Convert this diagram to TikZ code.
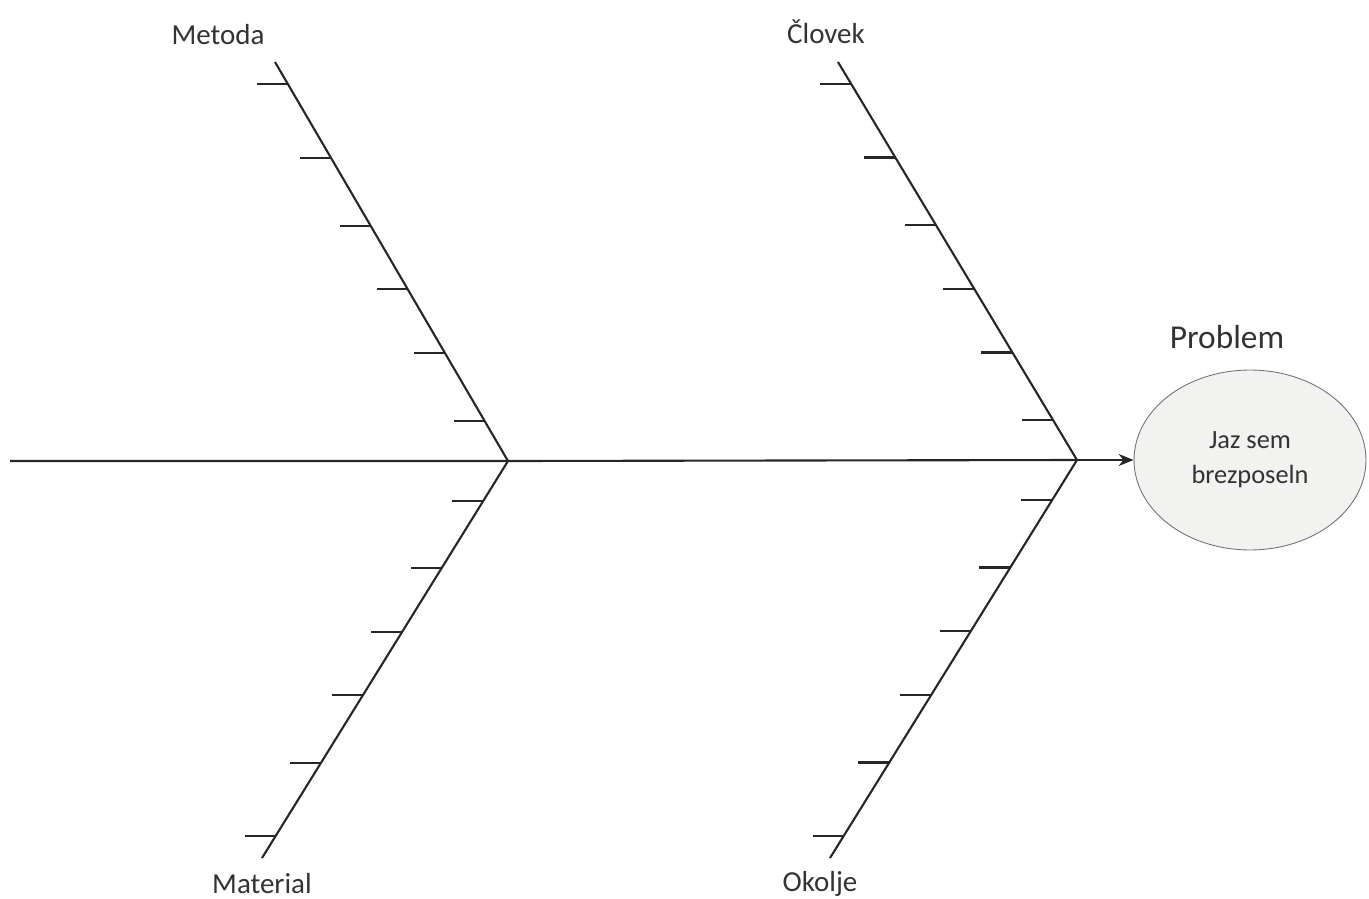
\documentclass[tikz,border=0pt]{standalone}
\usepackage{fontspec}
\setmainfont{Carlito}
\usepackage{xcolor}
\usetikzlibrary{arrows.meta,calc,shapes.geometric}

\definecolor{inkgray}{HTML}{333333}
\definecolor{eggfill}{HTML}{F2F2F0}

\begin{document}
\begin{tikzpicture}[
    x=0.02cm, y=-0.02cm,
    bone/.style={draw, line width=1.2pt, black!85},
    tickmark/.style={draw, line width=1.2pt, black!85},
    catlabel/.style={text=inkgray, font=\fontsize{16.5}{19}\selectfont, inner sep=1pt},
    problembox/.style={draw=black!55, fill=eggfill, ellipse, line width=0.5pt,
        minimum width=4.64cm, minimum height=3.6cm, align=center,
        text=inkgray, font=\fontsize{15}{20}\selectfont}
]
\useasboundingbox (0,0) rectangle (1369,899);

% spine joints and bone ends
\coordinate (tail) at (10,461);
\coordinate (j1) at (508,461);
\coordinate (j2) at (1077,460);
\coordinate (mtop) at (275,62);
\coordinate (mbot) at (262,858);
\coordinate (ctop) at (838,62);
\coordinate (obot) at (830,858);

% head of the fish
\node[problembox] (problem) at (1250,460) {Jaz sem\\brezposeln};
\node[text=inkgray, font=\fontsize{19}{22}\selectfont] (probtitle) at (1227,337) {Problem};

% category labels
\node[catlabel] (metoda) at (218,35) {Metoda};
\node[catlabel] (material) at (262,884) {Material};
\node[catlabel] (clovek) at (826,32) {Človek};
\node[catlabel] (okolje) at (820,884) {Okolje};

% spine
\draw[bone] (tail) -- (j1) -- (j2);
\draw[bone, -{Stealth[length=3mm, width=2.4mm]}] (j2) -- (problem);

% main bones
\draw[bone] (mtop) -- (j1) -- (mbot);
\draw[bone] (ctop) -- (j2) -- (obot);

% small bones
\foreach \f in {0.1,0.27,0.43,0.59,0.76,0.945} {
    \draw[tickmark] ($(j1)!\f!(mtop)$) -- ++(-31,0);
    \draw[tickmark] ($(j1)!\f!(mbot)$) -- ++(-31,0);
    \draw[tickmark] ($(j2)!\f!(ctop)$) -- ++(-31,0);
    \draw[tickmark] ($(j2)!\f!(obot)$) -- ++(-31,0);
}
\end{tikzpicture}
\end{document}
